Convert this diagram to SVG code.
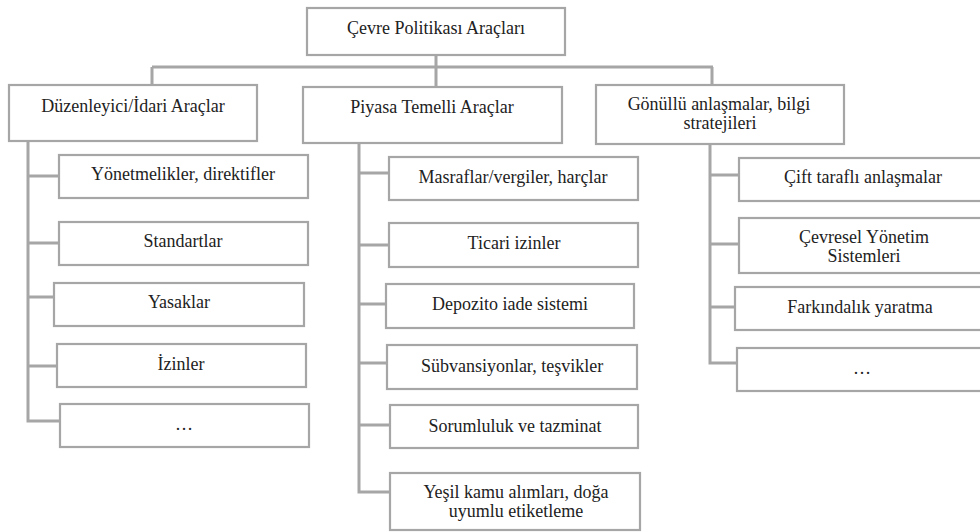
<svg xmlns="http://www.w3.org/2000/svg" width="980" height="532" viewBox="0 0 980 532">
<style>
.box{fill:#fff;stroke:#a6a6a6;stroke-width:2.2}
.lbl{font-size:18px;fill:#222;text-anchor:middle}
.con{fill:none;stroke:#a6a6a6;stroke-width:3}
</style>
<rect width="980" height="532" fill="#fff"/>
<g id="connectors" class="con">
<path d="M436 55V87M152 67H713M152 67V85M712 67V85"/>
<path d="M28 141V421H60M28 176H59M28 243H59M28 297H54M28 366H57"/>
<path d="M359 143V492H390M359 173H389M359 245H389M359 304H386M359 363H387M359 425H390"/>
<path d="M710 144V363H737M710 175H739M710 244H739M710 307H735"/>
</g>
<g font-family="'Liberation Serif', 'Times New Roman', serif">
<g id="root"><rect class="box" x="307" y="8" width="258" height="47"/><text class="lbl" x="436" y="34">Çevre Politikası Araçları</text></g>
<g id="duzenleyici"><rect class="box" x="9" y="85" width="248" height="56"/><text class="lbl" x="133" y="112">Düzenleyici/İdari Araçlar</text></g>
<g id="piyasa"><rect class="box" x="303" y="87" width="259" height="56"/><text class="lbl" x="432" y="113">Piyasa Temelli  Araçlar</text></g>
<g id="gonullu"><rect class="box" x="596" y="85" width="248" height="59"/><text class="lbl" x="719" y="110">Gönüllü anlaşmalar, bilgi</text><text class="lbl" x="720" y="129">stratejileri</text></g>
<g id="yonetmelikler"><rect class="box" x="59" y="155" width="249" height="43"/><text class="lbl" x="183" y="180">Yönetmelikler, direktifler</text></g>
<g id="standartlar"><rect class="box" x="59" y="222" width="249" height="43"/><text class="lbl" x="183" y="247">Standartlar</text></g>
<g id="yasaklar"><rect class="box" x="54" y="283" width="250" height="43"/><text class="lbl" x="179" y="308">Yasaklar</text></g>
<g id="izinler"><rect class="box" x="57" y="344" width="249" height="43"/><text class="lbl" x="181" y="370">İzinler</text></g>
<g id="diger1"><rect class="box" x="60" y="404" width="249" height="43"/><text class="lbl" x="184" y="430">…</text></g>
<g id="masraflar"><rect class="box" x="389" y="157" width="249" height="43"/><text class="lbl" x="513" y="183">Masraflar/vergiler, harçlar</text></g>
<g id="ticari"><rect class="box" x="389" y="223" width="249" height="44"/><text class="lbl" x="514" y="249">Ticari izinler</text></g>
<g id="depozito"><rect class="box" x="386" y="284" width="248" height="44"/><text class="lbl" x="510" y="310">Depozito iade sistemi</text></g>
<g id="subvansiyon"><rect class="box" x="387" y="345" width="250" height="44"/><text class="lbl" x="512" y="372">Sübvansiyonlar, teşvikler</text></g>
<g id="sorumluluk"><rect class="box" x="390" y="405" width="248" height="43"/><text class="lbl" x="515" y="432">Sorumluluk ve tazminat</text></g>
<g id="yesil"><rect class="box" x="390" y="473" width="250" height="57"/><text class="lbl" x="516" y="498">Yeşil kamu alımları, doğa</text><text class="lbl" x="516" y="517">uyumlu etiketleme</text></g>
<g id="cift"><rect class="box" x="739" y="158" width="250" height="43"/><text class="lbl" x="863" y="183">Çift taraflı anlaşmalar</text></g>
<g id="cevresel"><rect class="box" x="739" y="218" width="250" height="55"/><text class="lbl" x="864" y="243">Çevresel Yönetim</text><text class="lbl" x="864" y="262">Sistemleri</text></g>
<g id="farkindalik"><rect class="box" x="735" y="287" width="254" height="43"/><text class="lbl" x="860" y="313">Farkındalık yaratma</text></g>
<g id="diger2"><rect class="box" x="737" y="348" width="252" height="43"/><text class="lbl" x="862" y="374">…</text></g>
</g>
</svg>
